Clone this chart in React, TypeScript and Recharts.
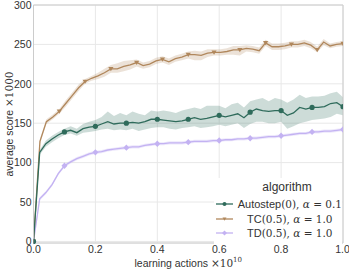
import React from 'react';
import {
  ComposedChart, Line, Area, XAxis, YAxis, CartesianGrid, ReferenceLine,
} from 'recharts';

// x positions (units of 1e10 learning actions)
const xAuto = [
  0, 0.02, 0.04, 0.06, 0.08, 0.1, 0.12, 0.14, 0.16, 0.18, 0.2, 0.22, 0.24, 0.26, 0.28, 0.3, 0.32,
  0.34, 0.36, 0.38, 0.4, 0.42, 0.44, 0.46, 0.48, 0.5, 0.52, 0.54, 0.56, 0.58, 0.6, 0.62, 0.64,
  0.66, 0.68, 0.7, 0.72, 0.74, 0.76, 0.78, 0.8, 0.82, 0.84, 0.86, 0.88, 0.9, 0.92, 0.94, 0.96,
  0.98, 1.0,
];
const autoMean = [
  0, 113, 124, 130, 135, 139, 141, 138, 143, 145, 146, 149, 152, 149, 150, 150, 151,
  150, 152, 155, 155, 154, 153, 152, 153, 155, 157, 155, 156, 158, 160, 158, 160,
  162, 157, 164, 168, 166, 165, 166, 166, 160, 163, 170, 168, 170, 170, 171, 175,
  176, 171,
];
const autoLo = [
  0, 110, 120, 126, 131, 135, 137, 134, 138, 139, 140, 142, 143, 141, 142, 141, 143,
  140, 142, 144, 145, 145, 143, 142, 144, 145, 146, 144, 145, 146, 148, 146, 148,
  150, 144, 149, 152, 152, 150, 150, 152, 143, 146, 150, 152, 154, 155, 156, 158,
  162, 160,
];
const autoHi = [
  0, 116, 128, 134, 139, 143, 146, 143, 149, 152, 154, 158, 165, 159, 163, 160, 165,
  162, 160, 166, 165, 166, 165, 163, 166, 168, 170, 168, 172, 172, 172, 169, 174,
  176, 170, 178, 180, 182, 178, 182, 180, 176, 180, 186, 182, 184, 184, 185, 188,
  190, 183,
];

// TC curve is logged on a finer grid (48 steps)
const xTc = Array.from({ length: 49 }, (_, i) => i / 48);
const tcMean = [
  0, 127, 152, 158, 165, 175, 185, 195, 203, 207, 210, 214, 219, 219, 222, 224, 227,
  223, 225, 229, 231, 228, 232, 234, 237, 237, 236, 239, 240, 240, 241, 243, 243,
  245, 244, 242, 252, 247, 247, 248, 250, 250, 252, 249, 243, 253, 248, 250, 251,
];
const tcLo = [
  0, 124, 149, 155, 162, 171, 181, 191, 200, 204, 206, 209, 214, 214, 216, 218, 222,
  219, 221, 225, 227, 224, 228, 230, 232, 230, 230, 234, 236, 236, 237, 237, 236,
  241, 240, 238, 248, 243, 243, 244, 246, 246, 248, 245, 240, 249, 245, 247, 248,
];
const tcHi = [
  0, 130, 155, 161, 168, 179, 189, 199, 206, 210, 214, 219, 224, 226, 229, 230, 231,
  227, 229, 233, 235, 232, 236, 238, 241, 242, 241, 244, 244, 244, 245, 248, 248,
  249, 248, 246, 256, 251, 251, 252, 254, 254, 256, 253, 247, 257, 251, 253, 254,
];

const tdMean = [
  0, 54, 62, 72, 86, 96, 101, 105, 108, 111, 113, 114, 116, 117, 118, 119, 120,
  120, 122, 123, 124, 124, 125, 125, 125, 126, 127, 127, 127, 128, 128, 129, 129,
  130, 130, 131, 131, 132, 133, 133, 134, 135, 136, 137, 137, 139, 139, 140, 140,
  141, 142,
];

const xTicks = [0, 0.2, 0.4, 0.6, 0.8, 1.0];
const yTicks = [0, 50, 100, 150, 200, 250, 300];

const AUTO = '#2f6b5b';
const TC = '#b0875c';
const TD = '#c3b2f2';

const autoData = xAuto.map((x, i) => ({ x, v: autoMean[i], band: [autoLo[i], autoHi[i]] }));
const tcData = xTc.map((x, i) => ({ x, v: tcMean[i], band: [tcLo[i], tcHi[i]] }));
const tdData = xAuto.map((x, i) => ({ x, v: tdMean[i], band: [tdMean[i] - 2, tdMean[i] + 2] }));

const math = 'DejaVu Serif, serif';

const circleDot = (every: number) => (p: any) =>
  p.index % every === 0
    ? <circle key={p.key} cx={p.cx} cy={p.cy} r={2.6} fill={AUTO} stroke="none" />
    : <g key={p.key} />;

const triDot = (every: number) => (p: any) =>
  p.index % every === 0
    ? <path key={p.key} d={`M${p.cx - 2.6},${p.cy - 1.8}L${p.cx + 2.6},${p.cy - 1.8}L${p.cx},${p.cy + 2.4}Z`} fill={TC} />
    : <g key={p.key} />;

const diaDot = (every: number) => (p: any) =>
  p.index % every === 0
    ? <path key={p.key} d={`M${p.cx},${p.cy - 3.2}L${p.cx + 3},${p.cy}L${p.cx},${p.cy + 3.2}L${p.cx - 3},${p.cy}Z`} fill={TD} />
    : <g key={p.key} />;

const XLabel = (props: any) => {
  const vb = props.viewBox;
  return (
    <text x={vb.x + vb.width / 2} y={vb.y + 24} textAnchor="middle" fontSize={10.5} fill="#333">
      learning actions <tspan fontFamily={math}>×10</tspan>
      <tspan fontFamily={math} fontSize={7} dy={-5}>10</tspan>
    </text>
  );
};

const YLabel = (props: any) => {
  const vb = props.viewBox;
  const cy = vb.y + vb.height / 2;
  return (
    <text x={9} y={cy} textAnchor="middle" fontSize={10.5} fill="#333"
      transform={`rotate(-90, 9, ${cy})`} dominantBaseline="central">
      average score <tspan fontFamily={math}>×1000</tspan>
    </text>
  );
};

const legendRows = [
  { name: 'Autostep', arg: '(0)', alpha: '0.1', color: AUTO, shape: 'c' },
  { name: 'TC', arg: '(0.5)', alpha: '1.0', color: TC, shape: 't' },
  { name: 'TD', arg: '(0.5)', alpha: '1.0', color: TD, shape: 'd' },
];

const LegendBox = () => (
  <div style={{ position: 'absolute', left: 214, top: 178, width: 128, background: '#fff', padding: '2px 0 4px 0', color: '#333', fontSize: 11 }}>
    <div style={{ textAlign: 'center', fontSize: 12, marginLeft: 18, marginBottom: 2, lineHeight: '15px' }}>algorithm</div>
    {legendRows.map((r) => (
      <div key={r.name} style={{ display: 'flex', alignItems: 'center', height: 14.5 }}>
        <svg width={32} height={10} style={{ marginLeft: 1 }}>
          <line x1={1} y1={5} x2={18} y2={5} stroke={r.color} strokeWidth={1.3} />
          {r.shape === 'c' && <circle cx={9.5} cy={5} r={2} fill={r.color} />}
          {r.shape === 't' && <path d="M7.5,3.6L11.5,3.6L9.5,6.8Z" fill={r.color} />}
          {r.shape === 'd' && <path d="M9.5,2.4L12,5L9.5,7.6L7,5Z" fill={r.color} />}
        </svg>
        <span style={{ whiteSpace: 'nowrap' }}>
          {r.name}
          <span style={{ fontFamily: math, fontSize: 10.5 }}>{r.arg}, </span>
          <span style={{ fontFamily: math, fontStyle: 'italic', fontSize: 10.5 }}>α</span>
          <span style={{ fontFamily: math, fontSize: 10.5 }}> = {r.alpha}</span>
        </span>
      </div>
    ))}
  </div>
);

export default function App() {
  return (
    <div style={{ position: 'absolute', left: 0, top: 0, width: 349, height: 272, background: '#fff', fontFamily: 'Liberation Sans, Arial, sans-serif' }}>
      <ComposedChart width={349} height={272} margin={{ top: 5, right: 6, bottom: 0, left: 0 }}>
        <CartesianGrid stroke="#e8e8e8" strokeWidth={1} />
        <XAxis
          type="number" dataKey="x" domain={[0, 1]} ticks={xTicks} allowDataOverflow
          tickFormatter={(v: number) => v.toFixed(1)} height={29}
          tickLine={false} tickSize={0} tickMargin={3}
          axisLine={{ stroke: '#cccccc' }} tick={{ fill: '#333', fontSize: 10.5 }}
          label={<XLabel />}
        />
        <YAxis
          type="number" domain={[0, 300]} ticks={yTicks} width={33.5}
          tickLine={false} tickSize={0} tickMargin={2}
          axisLine={{ stroke: '#cccccc' }} tick={{ fill: '#333', fontSize: 10.5 }}
          label={<YLabel />}
        />
        <ReferenceLine y={300} stroke="#cccccc" />
        <ReferenceLine x={1} stroke="#cccccc" />
        <Area data={autoData} dataKey="band" type="linear" stroke="none" fill={AUTO} fillOpacity={0.24} isAnimationActive={false} legendType="none" />
        <Area data={tcData} dataKey="band" type="linear" stroke="none" fill={TC} fillOpacity={0.24} isAnimationActive={false} legendType="none" />
        <Area data={tdData} dataKey="band" type="linear" stroke="none" fill={TD} fillOpacity={0.3} isAnimationActive={false} legendType="none" />
        <Line data={tdData} dataKey="v" type="linear" stroke={TD} strokeWidth={1.3} dot={diaDot(5)} activeDot={false} isAnimationActive={false} />
        <Line data={tcData} dataKey="v" type="linear" stroke={TC} strokeWidth={1.3} dot={triDot(4)} activeDot={false} isAnimationActive={false} />
        <Line data={autoData} dataKey="v" type="linear" stroke={AUTO} strokeWidth={1.3} dot={circleDot(5)} activeDot={false} isAnimationActive={false} />
      </ComposedChart>
      <LegendBox />
    </div>
  );
}
